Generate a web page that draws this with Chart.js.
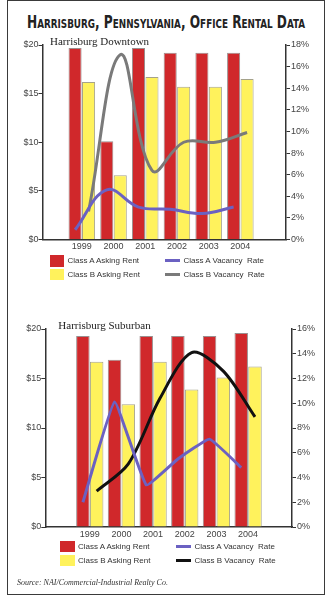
<!DOCTYPE html>
<html>
<head>
<meta charset="utf-8">
<script src="https://cdn.jsdelivr.net/npm/chart.js@4.4.1/dist/chart.umd.min.js"></script>
<style>
  html, body { margin: 0; padding: 0; background: #fff; }
  body { width: 331px; height: 599px; position: relative; overflow: hidden; font-family: "Liberation Sans", Arial, sans-serif; }
  #frame { position: absolute; left: 7px; top: 0; width: 318px; height: 595px; border: 1.5px solid #3a3a3a; box-sizing: border-box; }
  #title { position: absolute; left: 166px; top: 11px; white-space: nowrap; font-family: "Liberation Sans Narrow", "DejaVu Sans Condensed", sans-serif; font-weight: bold; font-variant: small-caps; font-size: 18px; color: #222; transform-origin: center; }
  .wrap { position: absolute; left: 8px; width: 316px; }
  .legend { position: absolute; display: grid; grid-auto-flow: column; font-size: 8px; color: #333; }
  .item { display: flex; align-items: center; white-space: pre; }
  #source { position: absolute; left: 17px; top: 578px; font-family: "Liberation Serif", serif; font-style: italic; font-size: 8px; color: #333; }
</style>
</head>
<body>
<div id="frame"></div>
<div id="title">Harrisburg, Pennsylvania, Office Rental Data</div>

<div class="wrap" style="top:30px;height:226px"><canvas id="downtown"></canvas></div>
<div class="legend" id="legend1" style="left:49.5px;top:254px;grid-template-rows:13.5px 13.5px;grid-template-columns:115.5px auto"></div>

<div class="wrap" style="top:315px;height:228px"><canvas id="suburban"></canvas></div>
<div class="legend" id="legend2" style="left:60px;top:539.5px;grid-template-rows:14px 14px;grid-template-columns:116px auto"></div>

<div id="source">Source: NAI/Commercial-Industrial Realty Co.</div>

<script>
const years = ["1999", "2000", "2001", "2002", "2003", "2004"];

// downtown, $ per sq ft and vacancy %
const downtownRentA = [19.7, 10.1, 19.7, 19.2, 19.2, 19.2];
const downtownRentB = [16.2, 6.6, 16.7, 15.7, 15.7, 16.5];
const downtownVacA = [0.9, 4.6, 3.0, 2.8, 2.4, 3.0];
const downtownVacB = [2.6, 17.1, 6.4, 9.0, 9.0, 9.9];

// suburban
const suburbanRentA = [19.3, 16.9, 19.3, 19.3, 19.3, 19.6];
const suburbanRentB = [16.7, 12.4, 16.7, 13.9, 15.1, 16.2];
const suburbanVacA = [2.0, 10.1, 3.4, 5.5, 7.1, 4.8];
const suburbanVacB = [2.9, 5.1, 10.4, 14.1, 12.6, 8.9];

const RED = "#d0282b";
const YELLOW = "#fff25c";
const BLUE = "#6b61c2";

// title in the top left of the plot
const boxTitle = {
  id: "boxTitle",
  afterDraw(chart, args, opts) {
    const { ctx, chartArea } = chart;
    ctx.save();
    ctx.font = '11px "Liberation Serif", serif';
    ctx.fillStyle = "#222";
    ctx.textBaseline = "middle";
    ctx.fillText(opts.text, chartArea.left + opts.dx, chartArea.top + opts.dy);
    ctx.restore();
  },
};

function makeChart(id, o) {
  const off = o.catPct / 4;
  const pts = (arr, d) => arr.map((v, i) => ({ x: i + d, y: v }));
  const tickFont = { family: '"Liberation Sans", Arial, sans-serif', size: 9 };

  return new Chart(document.getElementById(id), {
    type: "bar",
    data: {
      datasets: [
        { type: "line", label: "Class A Vacancy  Rate", data: pts(o.vacA, -off), yAxisID: "y2",
          borderColor: BLUE, borderWidth: 3, pointRadius: 0, tension: o.tensionA, order: 0 },
        { type: "line", label: "Class B Vacancy  Rate", data: pts(o.vacB, off), yAxisID: "y2",
          borderColor: o.lineB, borderWidth: 3, pointRadius: 0, tension: o.tensionB, order: 0 },
        { label: "Class A Asking Rent", data: pts(o.rentA, 0), backgroundColor: RED,
          borderColor: "#9a8f8f", borderWidth: 1, order: 1 },
        { label: "Class B Asking Rent", data: pts(o.rentB, 0), backgroundColor: YELLOW,
          borderColor: "#a5a28a", borderWidth: 1, order: 1 },
      ],
    },
    options: {
      responsive: true,
      maintainAspectRatio: false,
      animation: false,
      categoryPercentage: o.catPct,
      barPercentage: o.barPct,
      layout: { padding: { top: o.top, left: 0, right: 0, bottom: 0 } },
      plugins: {
        legend: { display: false },
        tooltip: { enabled: false },
        boxTitle: { text: o.title, dx: o.titleDx, dy: o.titleDy },
      },
      scales: {
        x: {
          type: "linear",
          min: o.xMin,
          max: o.xMax,
          afterBuildTicks: (s) => { s.ticks = years.map((_, i) => ({ value: i })); },
          afterFit: (s) => { s.height = o.xHeight; },
          border: { color: "#333", width: 1.5 },
          grid: { drawOnChartArea: false, drawTicks: false },
          ticks: { autoSkip: false, maxRotation: 0, padding: 2, color: "#444", font: tickFont,
            callback: (v) => years[v] },
        },
        y: {
          position: "left",
          min: 0, max: 20,
          afterFit: (s) => { s.width = o.leftW; },
          border: { color: "#333", width: 1.5 },
          grid: { drawOnChartArea: false, tickLength: 4, color: "#333" },
          ticks: { stepSize: 5, padding: 0, color: "#444", font: tickFont, callback: (v) => "$" + v },
        },
        y2: {
          position: "right",
          min: 0, max: o.vacMax,
          afterFit: (s) => { s.width = o.rightW; },
          border: { color: "#333", width: 1.5 },
          grid: { drawOnChartArea: false, tickLength: 4, color: "#333" },
          ticks: { stepSize: 2, padding: 1, color: "#444", font: tickFont, callback: (v) => v + "%" },
        },
      },
    },
    plugins: [boxTitle],
  });
}

function makeLegend(chart, el) {
  const ds = chart.data.datasets;
  // column-major: rents on the left, vacancy on the right
  [ds[2], ds[3], ds[0], ds[1]].forEach((d) => {
    const item = document.createElement("div");
    item.className = "item";
    const sw = document.createElement("span");
    if (d.type === "line") {
      sw.style.cssText = `display:inline-block;width:15px;height:3px;margin-right:3.5px;background:${d.borderColor}`;
    } else {
      sw.style.cssText = `display:inline-block;width:14.5px;height:11.5px;margin-right:3.5px;background:${d.backgroundColor}`;
    }
    item.appendChild(sw);
    item.appendChild(document.createTextNode(d.label));
    el.appendChild(item);
  });
}

const c1 = makeChart("downtown", {
  rentA: downtownRentA, rentB: downtownRentB, vacA: downtownVacA, vacB: downtownVacB,
  vacMax: 18, lineB: "#7a7a7a", tensionA: 0.4, tensionB: 0.4,
  catPct: 0.85, barPct: 0.97, xMin: -0.6, xMax: 5.8,
  top: 15, leftW: 34.5, rightW: 38, xHeight: 16.5,
  title: "Harrisburg Downtown", titleDx: 7.5, titleDy: -3,
});
makeLegend(c1, document.getElementById("legend1"));

const c2 = makeChart("suburban", {
  rentA: suburbanRentA, rentB: suburbanRentB, vacA: suburbanVacA, vacB: suburbanVacB,
  vacMax: 16, lineB: "#111", tensionA: 0.1, tensionB: 0.3,
  catPct: 0.87, barPct: 0.98, xMin: -0.755, xMax: 5.737,
  top: 14, leftW: 37.3, rightW: 32, xHeight: 16,
  title: "Harrisburg Suburban", titleDx: 13, titleDy: -2.5,
});
makeLegend(c2, document.getElementById("legend2"));

// squeeze the heading to the reference width, centred on x = 166
const t = document.getElementById("title");
const w = t.getBoundingClientRect().width;
t.style.transform = `translateX(-50%) scaleX(${278 / w})`;
</script>
</body>
</html>
